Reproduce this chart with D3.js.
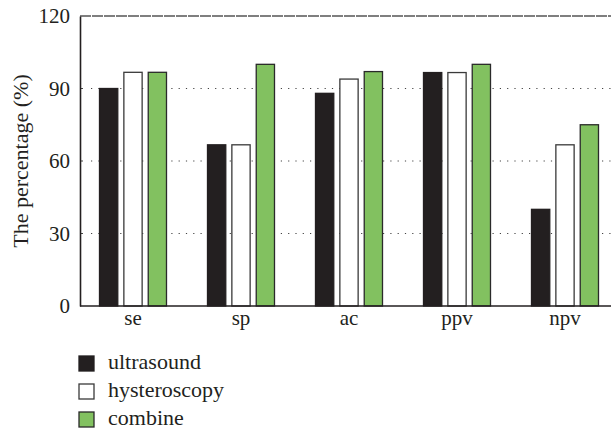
<!DOCTYPE html>
<html><head><meta charset="utf-8">
<script src="https://cdn.jsdelivr.net/npm/d3@7"></script>
</head><body style="margin:0">
<svg id="chart" width="611" height="432" style="display:block;background:#fff"></svg>
<script>
const categories = ["se", "sp", "ac", "ppv", "npv"];
const seriesNames = ["ultrasound", "hysteroscopy", "combine"];
const ultrasound = [90, 66.7, 88, 96.6, 40];
const hysteroscopy = [96.7, 66.7, 93.9, 96.6, 66.7];
const combine = [96.7, 100, 97, 100, 75];
const yTicks = [0, 30, 60, 90, 120];
const colors = ["#231f20", "#ffffff", "#82c160"];
const strokes = ["#231f20", "#3a3a3a", "#2a2a2a"];

(function () {
const seriesValues = [ultrasound, hysteroscopy, combine];
const svg = d3.select("#chart");
const font = "'Liberation Serif'";
const mLeft = 80, mTop = 16, mBottom = 306;

const x = d3.scaleBand().domain(categories).range([79, 619]).paddingInner(0).paddingOuter(0);
const y = d3.scaleLinear().domain([0, 120]).range([mBottom, mTop]);
const xs = d3.scaleBand().domain(seriesNames).range([0, 67]).paddingInner(0.25);

// dotted gridlines
svg.append("g").selectAll("line").data(yTicks.filter(t => t > 0 && t < 120)).join("line")
  .attr("x1", mLeft + 11).attr("x2", 611)
  .attr("y1", d => y(d)).attr("y2", d => y(d))
  .attr("stroke", "#444").attr("stroke-width", 1.2)
  .attr("stroke-dasharray", "1.2,6.1");
// small inner ticks on the y axis
svg.append("g").selectAll("line").data(yTicks.filter(t => t > 0 && t < 120)).join("line")
  .attr("x1", mLeft).attr("x2", mLeft + 3)
  .attr("y1", d => y(d)).attr("y2", d => y(d))
  .attr("stroke", "#444").attr("stroke-width", 1);
// top line
svg.append("line").attr("x1", mLeft).attr("x2", 611).attr("y1", y(120)).attr("y2", y(120))
  .attr("stroke", "#555").attr("stroke-width", 1.4).attr("stroke-dasharray", "11,1");

// bars
const groups = svg.append("g").selectAll("g").data(categories).join("g")
  .attr("transform", d => `translate(${x(d) + x.bandwidth() / 2 - 33.5},0)`);
groups.selectAll("rect").data((c, i) => seriesNames.map((s, j) => ({s, j, v: seriesValues[j][i]}))).join("rect")
  .attr("x", d => xs(d.s)).attr("width", xs.bandwidth())
  .attr("y", d => y(d.v)).attr("height", d => y(0) - y(d.v))
  .attr("fill", d => colors[d.j]).attr("stroke", d => strokes[d.j]).attr("stroke-width", 1.3);

// axes
const yAxis = d3.axisLeft(y).tickValues(yTicks).tickSize(0).tickPadding(10);
const gy = svg.append("g").attr("transform", `translate(${mLeft},0)`).call(yAxis);
gy.attr("font-family", null).attr("font-size", null);
gy.select(".domain").attr("stroke", "#231f20").attr("stroke-width", 1.6);
gy.selectAll("text").style("font-family", font).style("font-size", "21px").attr("fill", "#231f20");

const xAxis = d3.axisBottom(x).tickSize(0).tickPadding(4);
const gx = svg.append("g").attr("transform", `translate(0,${mBottom})`).call(xAxis);
gx.attr("font-family", null).attr("font-size", null);
gx.select(".domain").attr("d", `M${mLeft},0H611`).attr("stroke", "#231f20").attr("stroke-width", 1.6);
gx.selectAll("text").style("font-family", font).style("font-size", "21px").attr("fill", "#231f20");

svg.append("text").attr("transform", `translate(28,${(mTop + mBottom) / 2}) rotate(-90)`)
  .attr("text-anchor", "middle").style("font-family", font).style("font-size", "22px").attr("fill", "#231f20")
  .text("The percentage (%)");

// legend
const leg = svg.append("g").selectAll("g").data(seriesNames).join("g")
  .attr("transform", (d, i) => `translate(79,${356 + i * 28})`);
leg.append("rect").attr("width", 15).attr("height", 15)
  .attr("fill", (d, i) => colors[i]).attr("stroke", (d, i) => strokes[i]).attr("stroke-width", 1.3);
leg.append("text").attr("x", 29).attr("y", 13).style("font-family", font).style("font-size", "22px")
  .attr("fill", "#231f20").text(d => d);
})();
</script>
</body></html>
